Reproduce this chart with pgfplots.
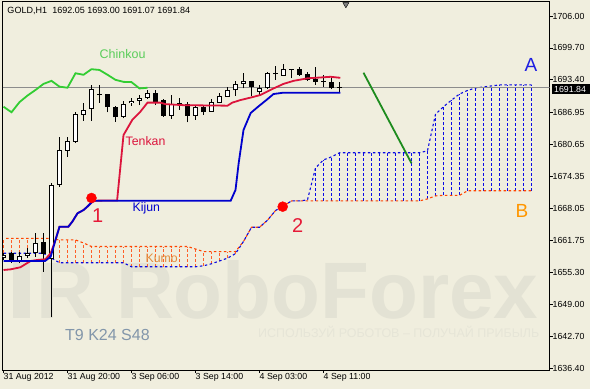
\documentclass[border=0pt]{standalone}
\usepackage{fontspec}
\setmainfont{Liberation Sans}
\usepackage{pgfplots}
\pgfplotsset{compat=1.18}
\usepackage{pgfplotstable}

\definecolor{bg}{RGB}{240,238,222}
\definecolor{wm}{RGB}{227,226,212}
\definecolor{wmtxt}{RGB}{230,229,215}
\definecolor{tenkan}{RGB}{220,20,60}
\definecolor{kijun}{RGB}{0,0,205}
\definecolor{chinkou}{RGB}{50,205,50}
\definecolor{chtxt}{RGB}{90,205,90}
\definecolor{spanA}{RGB}{10,10,225}
\definecolor{spanB}{RGB}{255,69,0}
\definecolor{hatchB}{RGB}{255,95,40}
\definecolor{hatchA}{RGB}{10,10,230}
\definecolor{kumotxt}{RGB}{225,140,60}
\definecolor{labA}{RGB}{30,30,225}
\definecolor{labB}{RGB}{255,150,0}
\definecolor{numred}{RGB}{230,25,55}
\definecolor{trend}{RGB}{30,140,30}
\definecolor{pline}{RGB}{140,140,140}
\definecolor{tks}{RGB}{130,150,170}

% bullish candles
\pgfplotstableread{
k O H L C
0 1658.2 1659.3 1657.9 1658.9
2 1657.5 1659.5 1657.2 1658.7
3 1658.7 1660.16 1658.2 1659.17
4 1659.17 1663.1 1658.5 1661.15
6 1658.0 1673.0 1646.5 1672.65
7 1672.65 1682.2 1672.3 1679.55
8 1679.4 1682.2 1678.2 1681.3
9 1681.2 1687.1 1680.9 1686.6
10 1686.5 1688.9 1685.3 1687.45
11 1687.6 1692.4 1685.3 1691.5
15 1686.1 1689.3 1685.8 1688.6
16 1688.8 1689.8 1688.3 1689.3
17 1689.3 1690.4 1688.4 1689.8
18 1689.8 1691.3 1689.6 1690.75
21 1686.3 1690.4 1685.7 1688.6
24 1686.3 1688.3 1685.5 1688.1
26 1687.1 1689.6 1687.1 1689.0
27 1688.8 1690.75 1688.8 1690.3
28 1690.1 1691.9 1690.1 1691.4
29 1691.3 1693.2 1690.3 1692.6
30 1692.5 1694.7 1691.7 1693.2
32 1691.06 1692.4 1690.4 1691.85
33 1691.73 1695.0 1691.5 1694.7
35 1694.2 1696.5 1694.2 1695.5
}\bull

% bearish candles
\pgfplotstableread{
k O H L C
1 1659.17 1659.4 1657.3 1657.85
5 1661.4 1663.2 1655.5 1659.0
12 1690.6 1692.4 1688.9 1690.4
13 1690.6 1690.6 1687.0 1688.0
14 1688.0 1688.3 1685.1 1686.0
19 1690.75 1691.3 1688.4 1688.9
20 1689.4 1689.6 1686.1 1686.3
22 1688.9 1689.8 1687.45 1688.4
23 1688.6 1689.0 1685.0 1686.3
25 1688.1 1688.3 1686.5 1687.0
31 1693.2 1693.2 1690.3 1692.05
34 1694.7 1696.2 1693.4 1694.5
36 1695.5 1695.5 1693.7 1695.3
37 1695.5 1696.0 1694.2 1694.4
38 1694.6 1695.0 1693.2 1693.4
39 1693.5 1696.0 1692.4 1693.0
40 1693.2 1694.4 1692.05 1692.95
41 1693.0 1694.2 1691.5 1691.7
42 1692.05 1693.0 1691.07 1691.84
}\bear

% Senkou span A and B (shifted 24 bars)
\pgfplotstableread{
k A B
0 1659.17 1662.1
1 1659.17 1662.1
2 1659.17 1662.1
3 1659.17 1662.1
4 1659.17 1662.1
5 1659.17 1662.1
6 1658.2 1662.1
7 1657.3 1661.8
8 1657.3 1661.8
9 1657.3 1661.8
10 1657.3 1661.2
11 1657.3 1660.5
12 1657.3 1660.5
13 1657.3 1660.5
14 1657.3 1660.5
15 1657.3 1660.5
16 1656.5 1660.5
17 1656.5 1660.5
18 1656.5 1660.5
19 1656.5 1660.5
20 1656.5 1660.5
21 1656.5 1660.5
22 1656.5 1660.5
23 1656.5 1660.5
24 1656.5 1660.0
25 1656.7 1659.5
26 1657.1 1659.5
27 1657.65 1659.5
28 1658.2 1659.5
29 1659.1 1659.5
30 1661.5 1661.5
31 1664.3 1664.3
32 1664.3 1664.3
33 1665.7 1665.7
34 1667.6 1667.6
35 1668.5 1668.5
36 1669.5 1669.5
37 1669.5 1669.5
38 1669.7 1669.5
39 1676.0 1669.5
40 1677.6 1669.5
41 1678.2 1669.5
42 1679.0 1669.5
43 1679.0 1669.5
44 1679.0 1669.5
45 1679.0 1669.5
46 1679.0 1669.5
47 1679.0 1669.5
48 1679.0 1669.5
49 1679.0 1669.5
50 1679.0 1669.5
51 1679.0 1669.5
52 1679.0 1669.5
53 1679.4 1669.9
54 1686.6 1670.5
55 1688.1 1670.6
56 1689.4 1670.6
57 1690.6 1670.6
58 1691.3 1671.5
59 1691.8 1671.5
60 1692.0 1671.5
61 1692.2 1671.5
62 1692.4 1671.5
63 1692.4 1671.5
64 1692.4 1671.5
65 1692.4 1671.5
66 1692.4 1671.5
}\senkou

\begin{document}
\begin{tikzpicture}
\useasboundingbox (-2.5pt,-19pt) rectangle (587.5pt,370pt);
\fill[bg] (-2.5pt,-19pt) rectangle (587.5pt,370pt);
% watermark
\begin{scope}[x=1pt,y=-1pt,shift={(-2.5pt,370pt)}]
\fill[wm] (13,262) rectangle (30,318);
\node[anchor=base west, inner sep=0pt, text=wm, font=\fontsize{80}{80}\selectfont\bfseries] at (36,318) {R};
\node[anchor=base west, inner sep=0pt, text=wm, font=\fontsize{80}{80}\selectfont\bfseries] at (116,318) {RoboForex};
\node[anchor=base west, inner sep=0pt, text=wmtxt, font=\fontsize{12.5}{13}\selectfont] at (258,337) {ИСПОЛЬЗУЙ РОБОТОВ – ПОЛУЧАЙ ПРИБЫЛЬ};
\end{scope}

\begin{axis}[
  at={(0,0)}, anchor=south west,
  scale only axis, width=547pt, height=369pt,
  xmin=-0.125, xmax=68.25, ymin=1636.13, ymax=1708.96,
  axis line style={black, line width=1pt},
  tick style={black, line width=0.8pt},
  major tick length=3pt, tick align=outside,
  xtick pos=lower, ytick pos=upper, yticklabel pos=upper,
  xtick={0,8,16,24,32,40},
  xticklabels={31 Aug 2012, 31 Aug 20:00, 3 Sep 06:00, 3 Sep 14:00, 4 Sep 03:00, 4 Sep 11:00},
  ytick={1636.40,1642.70,1649.00,1655.30,1661.75,1668.05,1674.35,1680.65,1686.95,1693.40,1699.70,1706.00},
  yticklabels={1636.40,1642.70,1649.00,1655.30,1661.75,1668.05,1674.35,1680.65,1686.95,1693.40,1699.70,1706.00},
  ticklabel style={font=\fontsize{8.8}{10}\selectfont},
  xticklabel style={anchor=north west, inner sep=0pt},
  yticklabel style={anchor=west, inner sep=0pt},
  minor tick num=0,
]
% cloud hatch (Senkou B above A)
\addplot[draw=none, no marks, forget plot, restrict x to domain=0:29.5,
  error bars/.cd, y dir=plus, y explicit, error mark=none,
  error bar style={draw=hatchB, line width=1pt, dash pattern=on 3pt off 2pt}]
  table[x=k, y=A, y error plus expr=\thisrow{B}-\thisrow{A}] {\senkou};
% cloud hatch (Senkou A above B)
\addplot[draw=none, no marks, forget plot, restrict x to domain=38.5:66.5,
  error bars/.cd, y dir=plus, y explicit, error mark=none,
  error bar style={draw=hatchA, line width=1.1pt, dash pattern=on 3pt off 2pt}]
  table[x=k, y=B, y error plus expr=\thisrow{A}-\thisrow{B}] {\senkou};
% senkou lines
\addplot[spanB, line width=1.1pt, dash pattern=on 2.5pt off 2.5pt, dash phase=2.5pt] table[x=k, y=B] {\senkou};
\addplot[spanA, line width=1.1pt, dash pattern=on 2.5pt off 2.5pt] table[x=k, y=A] {\senkou};
% current price line
\addplot[pline, line width=0.9pt] coordinates {(-0.125,1691.84) (68.25,1691.84)};
% wicks
\addplot[draw=none, no marks, error bars/.cd, y dir=plus, y explicit, error mark=none,
  error bar style={draw=black, line width=1pt}]
  table[x=k, y=L, y error plus expr=\thisrow{H}-\thisrow{L}] {\bull};
\addplot[draw=none, no marks, error bars/.cd, y dir=plus, y explicit, error mark=none,
  error bar style={draw=black, line width=1pt}]
  table[x=k, y=L, y error plus expr=\thisrow{H}-\thisrow{L}] {\bear};
% bodies
\addplot[draw=none, no marks, error bars/.cd, y dir=plus, y explicit, error mark=none,
  error bar style={draw=black, line width=5pt}]
  table[x=k, y=C, y error plus expr=\thisrow{O}-\thisrow{C}] {\bear};
\addplot[draw=none, no marks, error bars/.cd, y dir=plus, y explicit, error mark=none,
  error bar style={draw=black, line width=5pt}]
  table[x=k, y=O, y error plus expr=\thisrow{C}-\thisrow{O}] {\bull};
\addplot[draw=none, no marks, error bars/.cd, y dir=plus, y explicit, error mark=none,
  error bar style={draw=white, line width=3pt}]
  table[x=k, y expr=\thisrow{O}+0.2, y error plus expr=\thisrow{C}-\thisrow{O}-0.4] {\bull};
% Tenkan
\addplot[tenkan, line width=1.8pt] coordinates {
(0,1655.87) (0.9,1656.0) (2.1,1656.4) (3.4,1657.65) (4.25,1657.85) (5.25,1658.0) (5.9,1659.2)
(6.5,1661.8) (7,1664.4) (8.1,1664.4) (8.6,1665.4) (9.25,1667.06) (10,1667.7) (10.5,1668.4)
(11.1,1669.35) (11.5,1669.55) (14.2,1669.6) (15,1682.5) (16.1,1685.5) (17.1,1687.1) (18,1688.9)
(19.6,1688.9) (20.25,1688.6) (22.5,1688.4) (28,1688.3) (28.6,1688.9) (29.6,1689.4) (30.9,1689.9)
(32.1,1690.4) (33.75,1691.7) (35,1692.6) (36.25,1693.2) (38,1693.7) (40.9,1694.0) (42.1,1693.8)};
% Kijun
\addplot[kijun, line width=1.8pt] coordinates {
(0,1657.65) (5.2,1657.65) (5.9,1658.5) (6.5,1661.8) (7,1664.4) (8.1,1664.4) (8.6,1665.4)
(9.25,1667.06) (10,1667.7) (10.5,1668.4) (11.1,1669.35) (11.5,1669.55) (28.4,1669.55)
(29,1671.66) (29.4,1677.0) (30,1683.5) (30.9,1686.86) (31.75,1688.0) (33,1689.6)
(33.75,1690.6) (35,1690.87) (42.1,1690.87)};
% Chinkou
\addplot[chinkou, line width=1.8pt] coordinates {
(0,1688.1) (1,1687.0) (2,1689.0) (3,1690.3) (4,1691.4) (5,1692.6) (6,1693.2) (7,1692.05)
(8,1691.85) (9,1694.7) (10,1694.4) (11,1695.5) (12,1695.35) (13,1694.4) (14,1693.4)
(15,1693.0) (16,1692.95) (17,1691.7) (18,1691.84)};
% trend line
\addplot[trend, line width=1.8pt] coordinates {(45,1694.8) (51,1676.93)};
% signal points
\addplot[only marks, mark=*, mark size=5pt, mark options={fill=red, draw=red}] coordinates {(11,1670.08) (34.9,1668.37)};
% shift marker
\addplot[only marks, mark=triangle*, mark size=3.5pt, mark options={rotate=180, fill=gray, draw=none}] coordinates {(42.8,1708.3)};
\end{axis}

\begin{scope}[x=1pt,y=-1pt,shift={(-2.5pt,370pt)}]
\fill[black] (551.5,84) rectangle (590,94.5);
\node[anchor=base west, inner sep=0pt, text=white, font=\fontsize{8.8}{10}\selectfont] at (554,92.5) {1691.84};
\node[anchor=base west, inner sep=0pt, font=\fontsize{9}{10}\selectfont] at (7.3,13.3) {GOLD,H1\hspace{0.6em}1692.05 1693.00 1691.07 1691.84};
\node[anchor=base west, inner sep=0pt, text=chtxt, font=\fontsize{12.5}{13}\selectfont] at (99.5,58.3) {Chinkou};
\node[anchor=base west, inner sep=0pt, text=tenkan, font=\fontsize{12.3}{13}\selectfont] at (125.5,146) {Tenkan};
\node[anchor=base west, inner sep=0pt, text=kijun, font=\fontsize{12.3}{13}\selectfont] at (132.5,212) {Kijun};
\node[anchor=base west, inner sep=0pt, text=kumotxt, font=\fontsize{12.3}{13}\selectfont] at (145.5,262.7) {Kumo};
\node[anchor=base west, inner sep=0pt, text=numred, font=\fontsize{20}{20}\selectfont] at (91.8,223) {1};
\node[anchor=base west, inner sep=0pt, text=numred, font=\fontsize{20}{20}\selectfont] at (292,232) {2};
\node[anchor=base west, inner sep=0pt, text=labA, font=\fontsize{19}{19}\selectfont] at (524.5,72) {A};
\node[anchor=base west, inner sep=0pt, text=labB, font=\fontsize{19}{19}\selectfont] at (515.5,217) {B};
\node[anchor=base west, inner sep=0pt, text=tks, font=\fontsize{16}{16}\selectfont] at (65,340) {T9 K24 S48};
\end{scope}
\end{tikzpicture}
\end{document}
